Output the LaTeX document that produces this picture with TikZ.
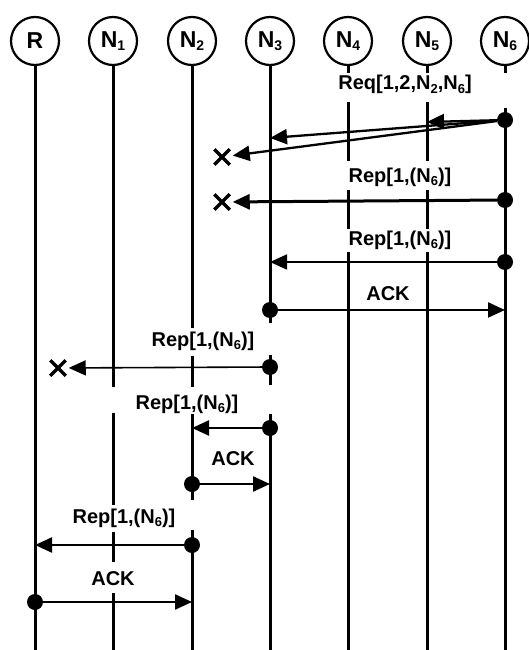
\documentclass[tikz,border=0pt]{standalone}
\usepackage{fontspec}
\setmainfont{Liberation Sans}
\usetikzlibrary{arrows.meta,shapes.misc}
\newcommand\lsub[1]{\raisebox{-0.3ex}{\fontsize{13}{13}\selectfont\bfseries #1}}
\newcommand\csub[1]{\raisebox{-0.3ex}{\fontsize{14}{14}\selectfont\bfseries #1}}
\begin{document}
\begin{tikzpicture}[x=1pt,y=-1pt,
  actor/.style={circle,draw,line width=2.2pt,minimum size=48pt,inner sep=0pt,font=\fontsize{23}{23}\selectfont\bfseries},
  life/.style={line width=3pt},
  msg/.style={line width=2.3pt,-{Triangle[length=17pt,width=15pt]}},
  thickmsg/.style={line width=3pt,-{Triangle[length=17pt,width=15pt]}},
  thinmsg/.style={line width=1.6pt,-{Triangle[length=17pt,width=15pt]}},
  dot/.style={circle,fill,inner sep=0pt,minimum size=16pt},
  lbl/.style={font=\fontsize{20}{20}\selectfont\bfseries,inner sep=0pt,anchor=base},
  lost/.style={cross out,draw,line width=3.5pt,minimum size=12pt,inner sep=0pt}
]
\useasboundingbox (0,0) rectangle (529,650);

% actors
\node[actor] (R)  at (35,41)  {R};
\node[actor] (N1) at (113,41) {N\csub{1}};
\node[actor] (N2) at (192,41) {N\csub{2}};
\node[actor] (N3) at (270,41) {N\csub{3}};
\node[actor] (N4) at (348,41) {N\csub{4}};
\node[actor] (N5) at (427,41) {N\csub{5}};
\node[actor] (N6) at (505,41) {N\csub{6}};

% lifelines
\draw[life] (R.south) -- (R |- 0,650);
\draw[life] (N1.south) -- (N1 |- 0,387) (N1 |- 0,413) -- (N1 |- 0,505)
            (N1 |- 0,532) -- (N1 |- 0,562) (N1 |- 0,593) -- (N1 |- 0,650);
\draw[life] (N2.south) -- (N2 |- 0,328) (N2 |- 0,356) -- (N2 |- 0,387)
            (N2 |- 0,414) -- (N2 |- 0,500) (N2 |- 0,530) -- (N2 |- 0,650);
\draw[life] (N3.south) -- (N3 |- 0,323) (N3 |- 0,355) -- (N3 |- 0,385)
            (N3 |- 0,414) -- (N3 |- 0,650);
\draw[life] (N4.south) -- (N4 |- 0,73) (N4 |- 0,102) -- (N4 |- 0,161)
            (N4 |- 0,190) -- (N4 |- 0,229) (N4 |- 0,252) -- (N4 |- 0,650);
\draw[life] (N5.south) -- (N5 |- 0,73) (N5 |- 0,102) -- (N5 |- 0,161)
            (N5 |- 0,190) -- (N5 |- 0,229) (N5 |- 0,252) -- (N5 |- 0,650);
\draw[life] (N6.south) -- (N6 |- 0,73) (N6 |- 0,108) -- (N6 |- 0,650);

% event dots
\node[dot] (d1) at (N6 |- 0,120) {};
\node[dot] (d2) at (N6 |- 0,200) {};
\node[dot] (d3) at (N6 |- 0,262) {};
\node[dot] (d4) at (N3 |- 0,310) {};
\node[dot] (d5) at (N3 |- 0,367) {};
\node[dot] (d6) at (N3 |- 0,428) {};
\node[dot] (d7) at (N2 |- 0,484) {};
\node[dot] (d8) at (N2 |- 0,545) {};
\node[dot] (d9) at (R |- 0,602) {};

% arrow targets
\coordinate (t1) at (N5 |- 0,122);
\coordinate (t2) at (N3 |- 0,138);
\coordinate (t3) at (N3 |- 0,262);
\coordinate (t4) at (N6 |- 0,310);
\coordinate (t5) at (N2 |- 0,428);
\coordinate (t6) at (N3 |- 0,484);
\coordinate (t7) at (R |- 0,545);
\coordinate (t8) at (N2 |- 0,602);

% lost messages
\node[lost] (x1) at (222,157) {};
\node[lost] (x2) at (222,202) {};
\node[lost] (x3) at (58,368) {};

% labels
\node[lbl] (l1) at (405,90)  {Req[1,2,N\lsub{2},N\lsub{6}]};
\node[lbl] (l2) at (400,182) {Rep[1,(N\lsub{6})]};
\node[lbl] (l3) at (400,245) {Rep[1,(N\lsub{6})]};
\node[lbl] (l4) at (388,300) {ACK};
\node[lbl] (l5) at (203,346) {Rep[1,(N\lsub{6})]};
\node[lbl] (l6) at (187,409) {Rep[1,(N\lsub{6})]};
\node[lbl] (l7) at (233,465) {ACK};
\node[lbl] (l8) at (124,523) {Rep[1,(N\lsub{6})]};
\node[lbl] (l9) at (113,585) {ACK};

% messages
\draw[msg] (d1) -- (t1);
\draw[msg] (d1) -- (t2);
\draw[msg,shorten >=3pt] (d1) -- (x1);
\draw[thickmsg,shorten >=3pt] (d2) -- (x2);
\draw[thinmsg] (d3) -- (t3);
\draw[msg] (d4) -- (t4);
\draw[thinmsg,shorten >=3pt] (d5) -- (x3);
\draw[msg] (d6) -- (t5);
\draw[msg] (d7) -- (t6);
\draw[msg] (d8) -- (t7);
\draw[msg] (d9) -- (t8);
\end{tikzpicture}
\end{document}
